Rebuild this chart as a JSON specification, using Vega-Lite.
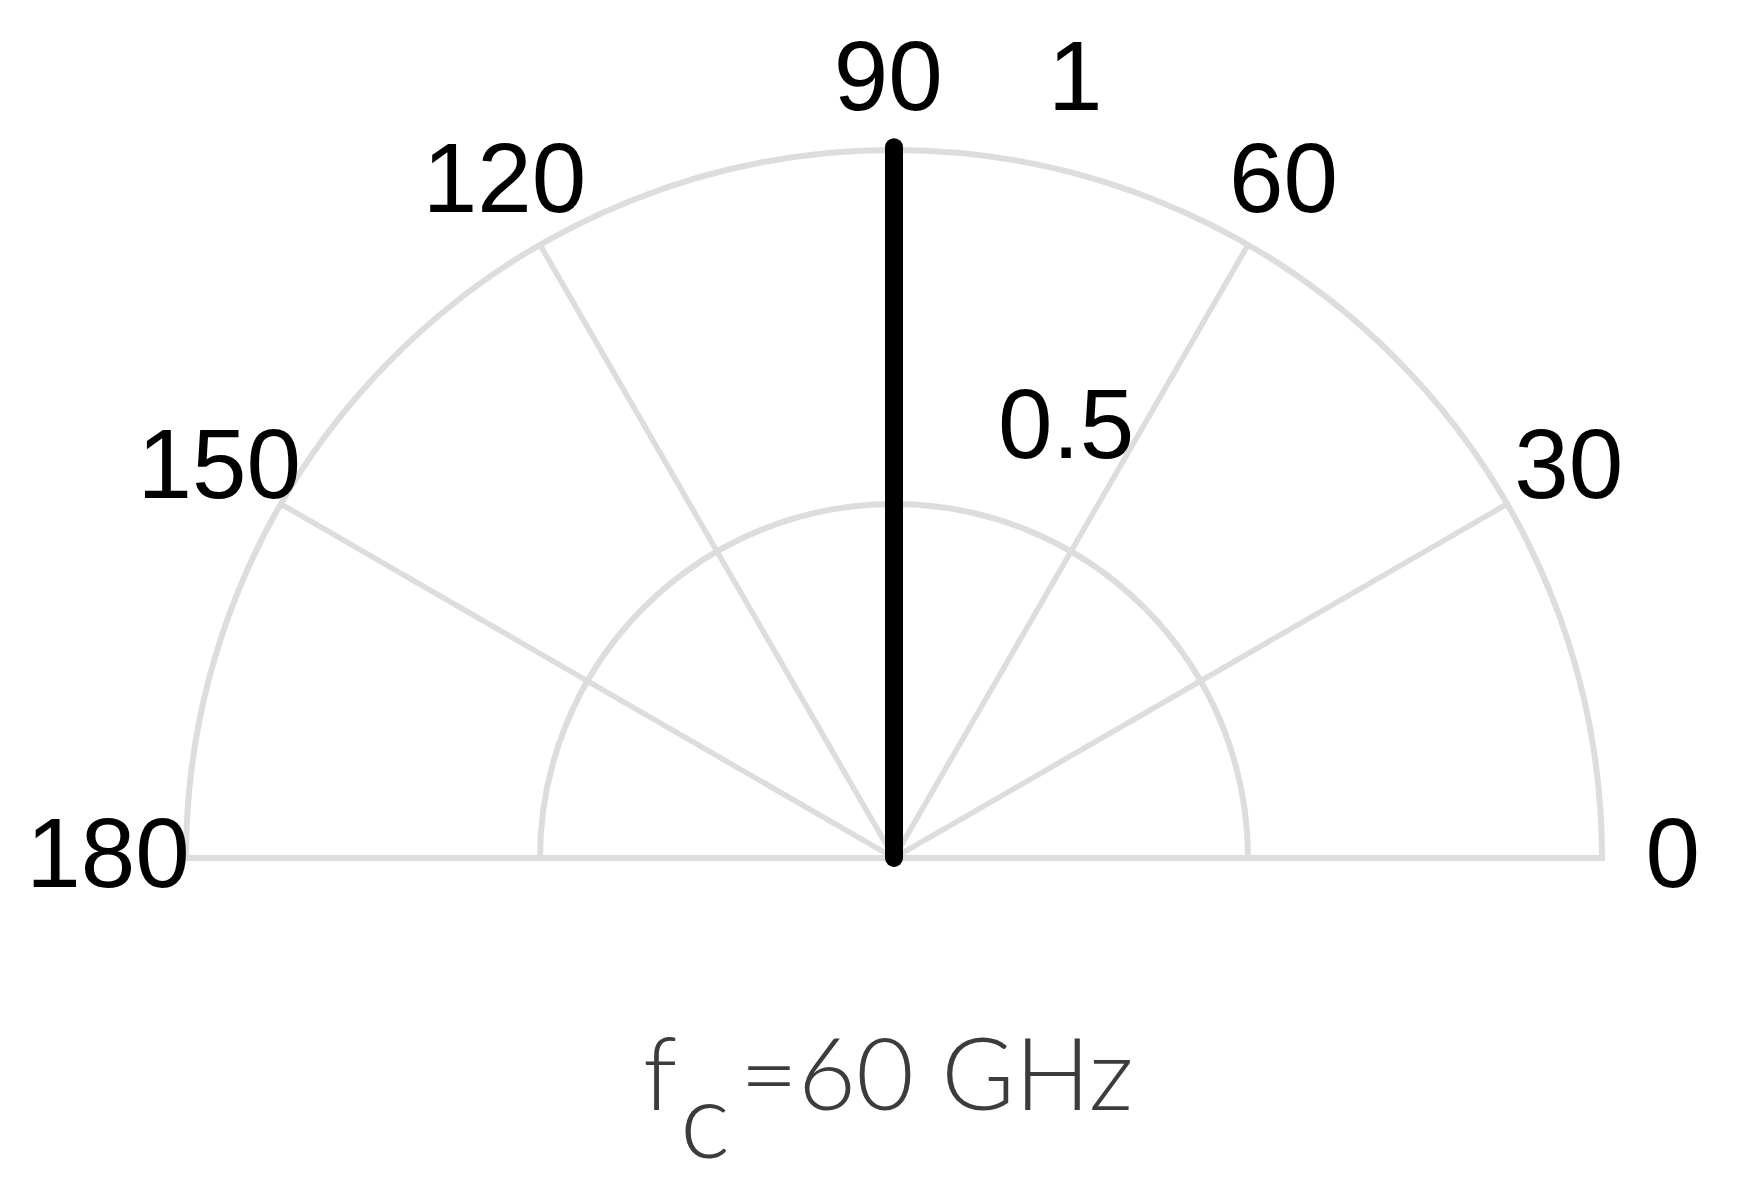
{
  "$schema": "https://vega.github.io/schema/vega-lite/v6.json",
  "width": 1741,
  "height": 1200,
  "autosize": {"type": "fit", "contains": "padding"},
  "padding": 0,
  "background": "white",
  "config": {"view": {"stroke": null}},
  "datasets": {
    "rings": [
      {"r": 0.5, "cx": 0, "cy": 0, "t1": -1.5708, "t2": 1.5708},
      {"r": 1.0, "cx": 0, "cy": 0, "t1": -1.5708, "t2": 1.5708}
    ],
    "spokes": [
      {"angle": 0, "x0": 0, "y0": 0, "x1": 1.0, "y1": 0.0},
      {"angle": 30, "x0": 0, "y0": 0, "x1": 0.866, "y1": 0.5},
      {"angle": 60, "x0": 0, "y0": 0, "x1": 0.5, "y1": 0.866},
      {"angle": 90, "x0": 0, "y0": 0, "x1": 0.0, "y1": 1.0},
      {"angle": 120, "x0": 0, "y0": 0, "x1": -0.5, "y1": 0.866},
      {"angle": 150, "x0": 0, "y0": 0, "x1": -0.866, "y1": 0.5},
      {"angle": 180, "x0": 0, "y0": 0, "x1": -1.0, "y1": 0.0}
    ],
    "pattern": [
      {"angle": 90, "x0": 0, "y0": 0, "x1": 0.0, "y1": 1.004}
    ],
    "angleLabels": [
      {"label": "0", "x": 1.1, "y": 0.0},
      {"label": "30", "x": 0.953, "y": 0.55},
      {"label": "60", "x": 0.55, "y": 0.953},
      {"label": "90", "x": -0.008, "y": 1.097},
      {"label": "120", "x": -0.55, "y": 0.953},
      {"label": "150", "x": -0.953, "y": 0.55},
      {"label": "180", "x": -1.11, "y": 0.0}
    ],
    "radialLabels": [
      {"label": "1", "x": 0.256, "y": 1.097},
      {"label": "0.5", "x": 0.243, "y": 0.606}
    ],
    "caption": [
      {"part": "f", "x": -0.3305, "y": -0.356, "kind": "main"},
      {"part": "c", "x": -0.267, "y": -0.424, "kind": "sub"},
      {"part": "=60 GHz", "x": -0.2175, "y": -0.356, "kind": "rest"}
    ]
  },
  "layer": [
    {
      "data": {"name": "rings"},
      "mark": {"type": "arc", "fill": null, "filled": false, "stroke": "#dddddd", "strokeWidth": 6},
      "encoding": {
        "x": {"field": "cx", "type": "quantitative", "scale": {"domain": [-1.2627, 1.1963], "nice": false, "zero": false}, "axis": null},
        "y": {"field": "cy", "type": "quantitative", "scale": {"domain": [-0.4831, 1.2119], "nice": false, "zero": false}, "axis": null},
        "theta": {"field": "t1", "type": "quantitative", "scale": null},
        "theta2": {"field": "t2"},
        "radius": {"field": "r", "type": "quantitative", "scale": {"type": "linear", "domain": [0, 1], "range": [0, 708], "zero": true, "nice": false}, "legend": null}
      }
    },
    {
      "data": {"name": "spokes"},
      "mark": {"type": "rule", "stroke": "#dddddd", "strokeWidth": 5.5},
      "encoding": {
        "x": {"field": "x0", "type": "quantitative"},
        "y": {"field": "y0", "type": "quantitative"},
        "x2": {"field": "x1"},
        "y2": {"field": "y1"}
      }
    },
    {
      "data": {"name": "pattern"},
      "mark": {"type": "rule", "stroke": "#000000", "strokeWidth": 18, "strokeCap": "round"},
      "encoding": {
        "x": {"field": "x0", "type": "quantitative"},
        "y": {"field": "y0", "type": "quantitative"},
        "x2": {"field": "x1"},
        "y2": {"field": "y1"}
      }
    },
    {
      "data": {"name": "angleLabels"},
      "mark": {"type": "text", "font": "Liberation Sans", "fontSize": 98, "color": "#000000", "align": "center", "baseline": "middle"},
      "encoding": {
        "x": {"field": "x", "type": "quantitative"},
        "y": {"field": "y", "type": "quantitative"},
        "text": {"field": "label"}
      }
    },
    {
      "data": {"name": "radialLabels"},
      "mark": {"type": "text", "font": "Liberation Sans", "fontSize": 98, "color": "#000000", "align": "center", "baseline": "middle"},
      "encoding": {
        "x": {"field": "x", "type": "quantitative"},
        "y": {"field": "y", "type": "quantitative"},
        "text": {"field": "label"}
      }
    },
    {
      "data": {"name": "caption"},
      "transform": [{"filter": "datum.kind == 'main'"}],
      "mark": {"type": "text", "font": "Lato", "fontWeight": 300, "fontSize": 100, "color": "#3c3c3c", "align": "center", "baseline": "alphabetic"},
      "encoding": {
        "x": {"field": "x", "type": "quantitative"},
        "y": {"field": "y", "type": "quantitative"},
        "text": {"field": "part"}
      }
    },
    {
      "data": {"name": "caption"},
      "transform": [{"filter": "datum.kind == 'sub'"}],
      "mark": {"type": "text", "font": "Lato", "fontWeight": 300, "fontSize": 106, "color": "#3c3c3c", "align": "center", "baseline": "alphabetic"},
      "encoding": {
        "x": {"field": "x", "type": "quantitative"},
        "y": {"field": "y", "type": "quantitative"},
        "text": {"field": "part"}
      }
    },
    {
      "data": {"name": "caption"},
      "transform": [{"filter": "datum.kind == 'rest'"}],
      "mark": {"type": "text", "font": "Lato", "fontWeight": 300, "fontSize": 100, "color": "#3c3c3c", "align": "left", "baseline": "alphabetic"},
      "encoding": {
        "x": {"field": "x", "type": "quantitative"},
        "y": {"field": "y", "type": "quantitative"},
        "text": {"field": "part"}
      }
    }
  ]
}
